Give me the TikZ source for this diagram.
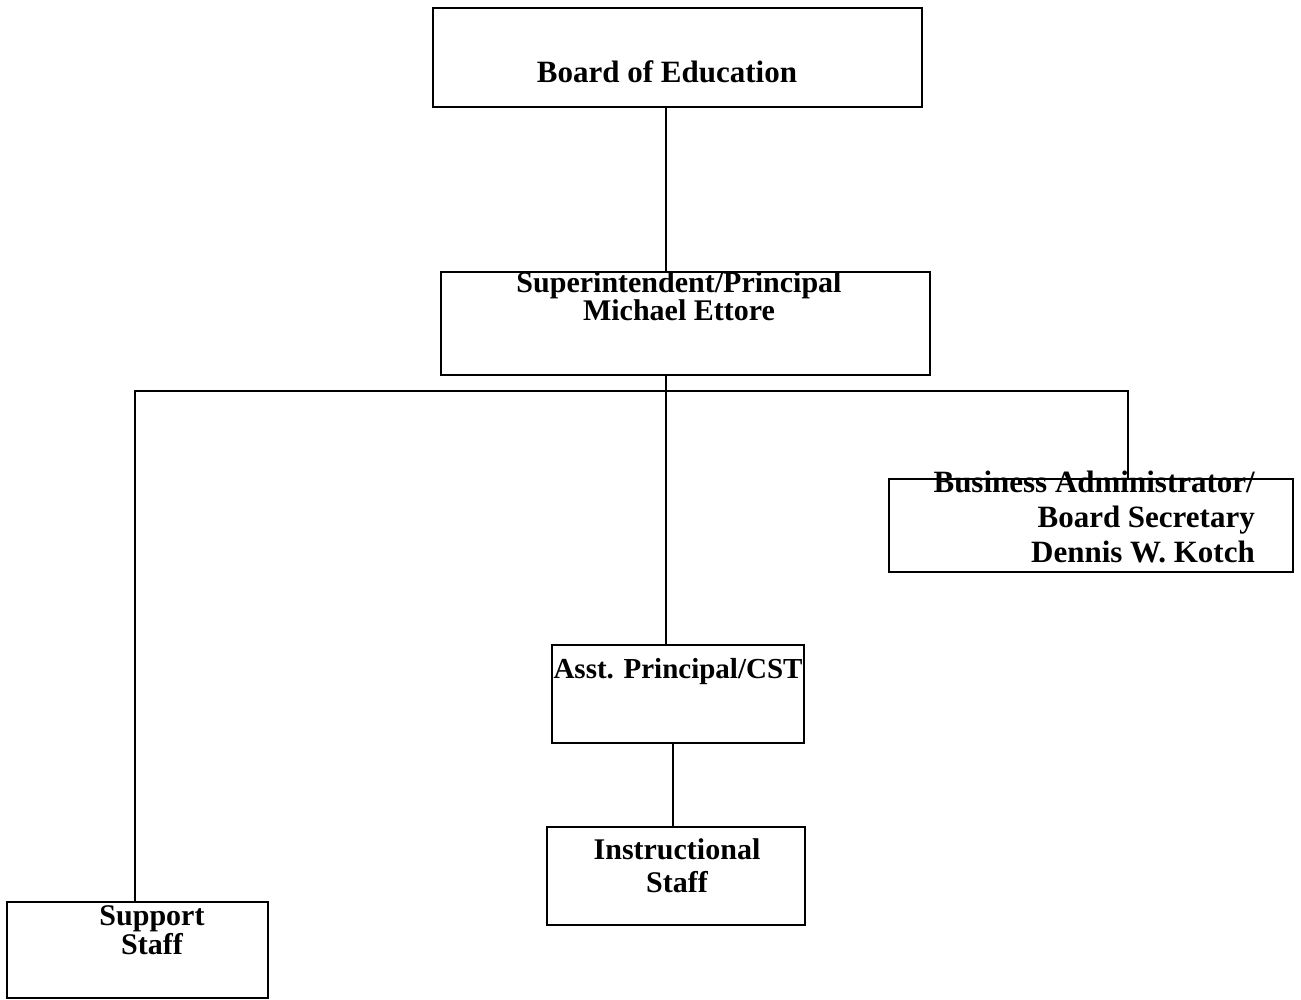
\documentclass[tikz,border=0pt]{standalone}
\usepackage{fontspec}
\setmainfont{Liberation Serif}
\begin{document}
\begin{tikzpicture}[x=1pt,y=-1pt,
  box/.style={draw, line width=2pt, rectangle, inner sep=0pt},
  lbl/.style={font=\bfseries\fontsize{30}{34}\selectfont, inner sep=0pt},
  conn/.style={line width=2pt}]
\useasboundingbox (0,0) rectangle (1301,1000);
\node[box, minimum width=489pt, minimum height=99pt] (board) at (677.5,57.5) {};
\node[box, minimum width=489pt, minimum height=103pt] (sup) at (685.5,323.5) {};
\node[box, minimum width=404pt, minimum height=93pt] (bus) at (1091,525.5) {};
\node[box, minimum width=252pt, minimum height=98pt] (asst) at (678,694) {};
\node[box, minimum width=258pt, minimum height=98pt] (instr) at (676,876) {};
\node[box, minimum width=261pt, minimum height=96pt] (supp) at (137.5,950) {};
\node[lbl, font=\bfseries\fontsize{31}{34}\selectfont] (tboard) at (667,72) {Board of Education};
\node[lbl, align=center, font=\bfseries\fontsize{30}{28}\selectfont] (tsup) at (679,296) {Superintendent/Principal\\Michael Ettore};
\node[lbl, align=right, anchor=east, font=\bfseries\fontsize{31}{35}\selectfont] (tbus) at (1255,517) {Business Administrator/\\Board Secretary\\Dennis W. Kotch};
\node[lbl, font=\bfseries\fontsize{29}{34}\selectfont] (tasst) at (678,672) {Asst. Principal/CST};
\node[lbl, align=center, font=\bfseries\fontsize{30}{33}\selectfont] (tinstr) at (677,866) {Instructional\\Staff};
\node[lbl, align=center, font=\bfseries\fontsize{30}{26}\selectfont] (tsupp) at (152,930) {Support\\Staff};
\coordinate (j) at (666,391);
\coordinate (l) at (135,391);
\coordinate (r) at (1128,391);
\coordinate (k) at (673,743);
\draw[conn] (board.south -| j) -- (sup.north -| j);
\draw[conn] (sup.south -| j) -- (j);
\draw[conn] (j) -- (asst.north -| j);
\draw[conn] (supp.north -| l) -- (l) -- (r) -- (bus.north -| r);
\draw[conn] (asst.south -| k) -- (instr.north -| k);
\end{tikzpicture}
\end{document}
